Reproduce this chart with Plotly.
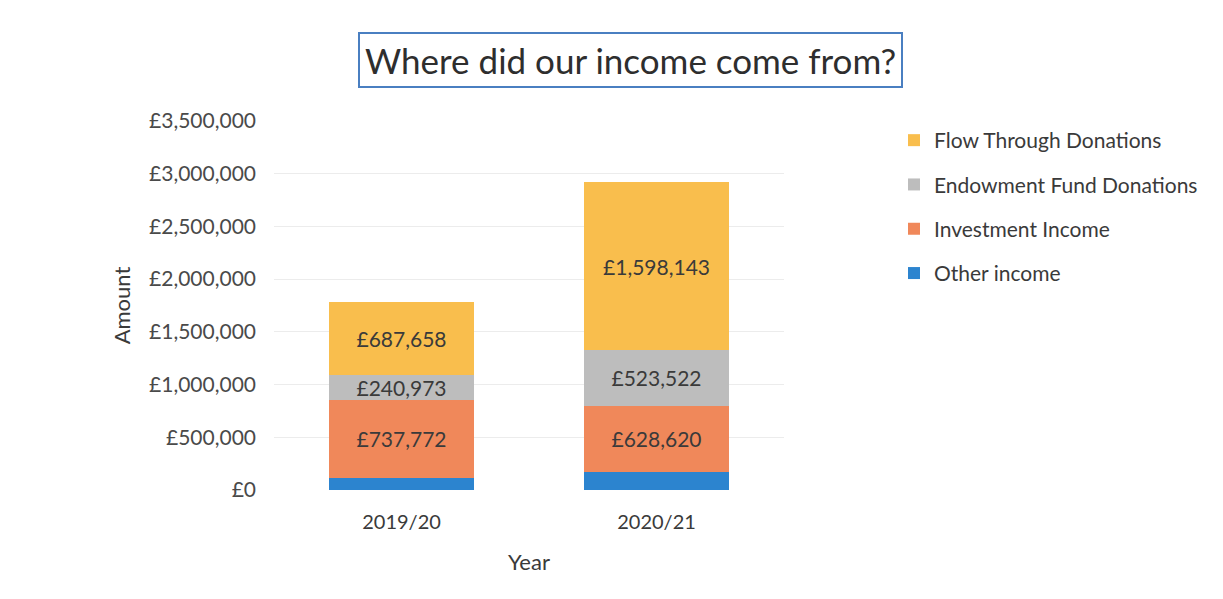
import plotly.graph_objects as go

years = ["2019/20", "2020/21"]
other_income = [115000, 172000]
investment_income = [737772, 628620]
endowment_donations = [240973, 523522]
flow_through_donations = [687658, 1598143]

y_ticks = [0, 500000, 1000000, 1500000, 2000000, 2500000, 3000000, 3500000]
y_tick_labels = ["£0", "£500,000", "£1,000,000", "£1,500,000", "£2,000,000",
                 "£2,500,000", "£3,000,000", "£3,500,000"]

FONT = "Lato, 'Open Sans', sans-serif"
TEXT_COLOR = "#3a3a3a"

# (name, values, colour, labelled, legend rank)
series = [
    ("Other income", other_income, "#2c84cf", False, 4),
    ("Investment Income", investment_income, "#f0885a", True, 3),
    ("Endowment Fund Donations", endowment_donations, "#bdbdbd", True, 2),
    ("Flow Through Donations", flow_through_donations, "#f9be4d", True, 1),
]

PLOT_L, PLOT_R, PLOT_T, PLOT_B = 274, 784, 121, 490
PW, PH = PLOT_R - PLOT_L, PLOT_B - PLOT_T

fig = go.Figure()
for name, vals, color, show_text, rank in series:
    fig.add_trace(go.Bar(
        x=years, y=vals, name=name, legendgroup=name, legendrank=rank,
        marker=dict(color=color, line=dict(width=0)),
        texttemplate="£%{y:,.0f}" if show_text else None,
        textposition="inside" if show_text else "none",
        insidetextanchor="middle",
        constraintext="none",
        textfont=dict(family=FONT, size=21, color=TEXT_COLOR),
        hovertemplate="%{x}: £%{y:,.0f}<extra>" + name + "</extra>",
    ))

fig.update_layout(
    barmode="stack",
    bargap=0.435,
    width=1223, height=599,
    paper_bgcolor="white", plot_bgcolor="white",
    margin=dict(l=PLOT_L, r=1223 - PLOT_R, t=PLOT_T, b=599 - PLOT_B),
    font=dict(family=FONT, color=TEXT_COLOR),
    showlegend=True,
    legend=dict(
        x=(894 - PLOT_L) / PW, y=1 - (120 - PLOT_T) / PH, xanchor="left", yanchor="top",
        traceorder="grouped", tracegroupgap=14,
        font=dict(family=FONT, size=21, color=TEXT_COLOR),
        itemwidth=30, bgcolor="rgba(0,0,0,0)",
    ),
    xaxis=dict(
        title=dict(text="Year", font=dict(family=FONT, size=22, color=TEXT_COLOR), standoff=22),
        tickfont=dict(family=FONT, size=20, color=TEXT_COLOR),
        showline=False, ticks="", ticklabelstandoff=18,
    ),
    yaxis=dict(
        range=[0, 3500000],
        tickvals=y_ticks, ticktext=y_tick_labels,
        tickfont=dict(family=FONT, size=21, color="#4a4a4a"),
        gridcolor="#ececec", gridwidth=1, zeroline=False, ticks="",
        ticklabelstandoff=17,
        title=dict(text="Amount", font=dict(family=FONT, size=22, color=TEXT_COLOR), standoff=12),
    ),
    annotations=[dict(
        text="Where did our income come from?",
        xref="paper", yref="paper",
        x=(630 - PLOT_L) / PW, y=1 + (PLOT_T - 88) / PH,
        xanchor="center", yanchor="bottom",
        showarrow=False,
        font=dict(family=FONT, size=35, color="#2e2e2e"),
        bordercolor="#4a7fc1", borderwidth=2, borderpad=5,
        bgcolor="white",
    )],
)

fig.write_html("out.html")
